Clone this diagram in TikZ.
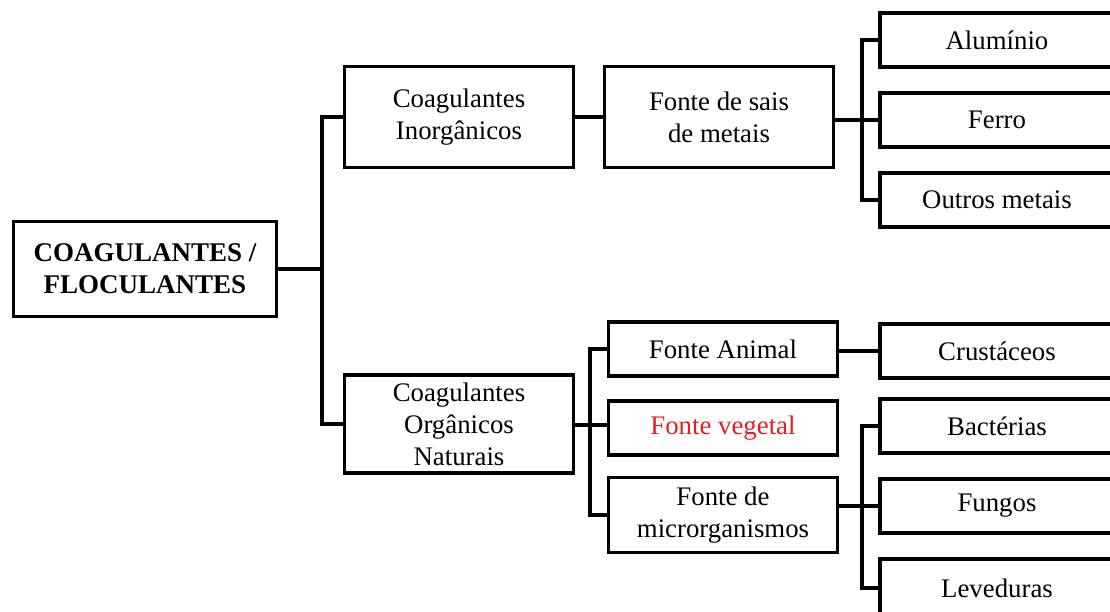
\documentclass[tikz,border=0pt]{standalone}
\usepackage{fontspec}
\setmainfont{Liberation Serif}
\usetikzlibrary{positioning}

\definecolor{vegred}{RGB}{228,30,36}

\begin{document}
\begin{tikzpicture}[x=1pt, y=-1pt,
  box/.style={draw, line width=3.8pt, inner sep=1pt, align=center,
    font=\fontsize{26.8}{32}\selectfont},
  leafbox/.style={box, minimum width=234pt, minimum height=54pt},
  midbox/.style={box, minimum width=229pt},
  link/.style={line width=3.4pt}]
  \useasboundingbox (0,0) rectangle (1110,612);
  \clip (0,0) rectangle (1110,612);
  % Root
  \node[box, minimum width=263pt, minimum height=95pt,
    font=\bfseries\fontsize{27}{32}\selectfont]
    (root) at (145,269) {COAGULANTES /\\FLOCULANTES};
  % Inorganic branch
  \node[midbox, minimum height=101pt] (inorg) at (459,117)
    {Coagulantes\\Inorgânicos};
  \node[midbox, minimum height=101pt] (sais) at (719,117)
    {Fonte de sais\\de metais};
  \node[leafbox] (alum) at (997,40) {Alumínio};
  \node[leafbox] (ferro) at (997,120) {Ferro};
  \node[leafbox] (outros) at (997,200) {Outros metais};
  % Organic branch
  \node[midbox, minimum height=98pt] (org) at (459,424)
    {Coagulantes\\Orgânicos\\Naturais};
  \node[midbox, minimum height=54pt] (animal) at (723,349)
    {Fonte Animal};
  \node[midbox, minimum height=54pt, text=vegred] (vegetal) at (723,428)
    {Fonte vegetal};
  \node[midbox, minimum height=75pt] (micro) at (723,515)
    {Fonte de\\microrganismos};
  \node[leafbox] (crust) at (997,351) {Crustáceos};
  \node[leafbox] (bact) at (997,426) {Bactérias};
  \node[leafbox] (fungos) at (997,506) {Fungos};
  \node[leafbox, minimum height=58pt] (lev) at (997,588) {Leveduras};
  % Junctions
  \coordinate (jroot) at (322,269);
  \coordinate (jsais) at (862,120);
  \coordinate (jorg) at (590,425);
  \coordinate (jmicro) at (862,506);
  % Root to classes
  \draw[link] (root) -- (jroot);
  \draw[link] (inorg.west) -| (jroot) |- (org.west);
  % Inorganic links
  \draw[link] (inorg) -- (sais);
  \draw[link] (sais.east |- jsais) -- (ferro.west);
  \draw[link] (alum.west) -| (jsais) |- (outros.west);
  % Organic links
  \draw[link] (org.east |- jorg) -- (vegetal.west |- jorg);
  \draw[link] (animal.west) -| (jorg) |- (micro.west);
  \draw[link] (animal.east |- crust) -- (crust.west);
  \draw[link] (micro.east |- jmicro) -- (fungos.west);
  \draw[link] (bact.west) -| (jmicro) |- (lev.west);
\end{tikzpicture}
\end{document}
